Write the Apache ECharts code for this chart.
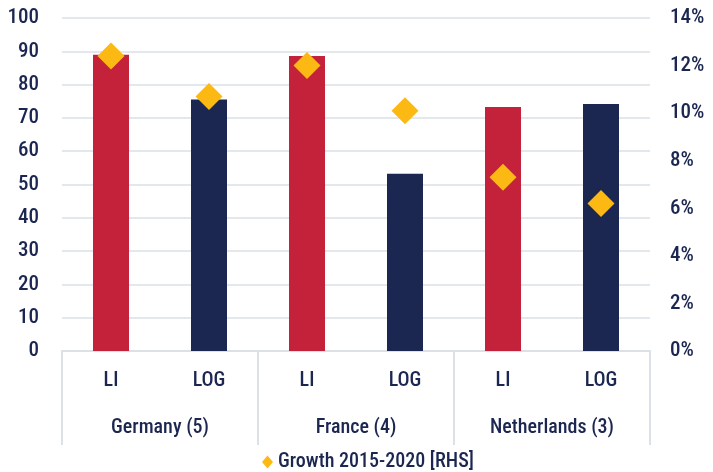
<!DOCTYPE html>
<html>
<head>
<meta charset="utf-8">
<script src="https://cdn.jsdelivr.net/npm/echarts@6/dist/echarts.min.js"></script>
<style>
html,body{margin:0;padding:0;background:#fff;}
#chart{width:713px;height:472px;}
</style>
</head>
<body>
<div id="chart"></div>
<script>
var categories = ['LI', 'LOG', 'LI', 'LOG', 'LI', 'LOG'];
var groups = ['Germany (5)', 'France (4)', 'Netherlands (3)'];
var barValues = [89, 75.5, 88.6, 53.2, 73.3, 74.2];
var growthValues = [12.4, 10.7, 12.0, 10.1, 7.3, 6.2];
var leftTicks = {min: 0, max: 100, interval: 10};
var rightTicks = {min: 0, max: 14, interval: 2};
var seriesName = 'Growth 2015-2020 [RHS]';

var barColors = ['#C3223A', '#1B2651'];
var textColor = '#1B2651';
var fontFam = '"Roboto Condensed", "Roboto", sans-serif';
var fw = 500;

var chart = echarts.init(document.getElementById('chart'));
chart.setOption({
  animation: false,
  textStyle: {fontFamily: fontFam},
  grid: {left: 62, right: 63, top: 18, bottom: 121, containLabel: false},
  legend: {
    top: 447,
    left: 257,
    data: [{name: seriesName, icon: 'diamond'}],
    itemWidth: 11,
    itemHeight: 13,
    itemGap: 6,
    textStyle: {color: textColor, fontSize: 20, fontWeight: fw, fontFamily: fontFam}
  },
  xAxis: [
    {
      type: 'category',
      data: categories,
      position: 'bottom',
      axisLine: {show: true, lineStyle: {color: '#DCE1E7', width: 2}},
      axisTick: {show: false},
      axisLabel: {color: textColor, fontSize: 20, fontWeight: fw, margin: 20, fontFamily: fontFam}
    },
    {
      type: 'category',
      data: groups,
      position: 'bottom',
      axisLine: {show: false},
      axisTick: {show: true, length: 94, lineStyle: {color: '#DCE1E7', width: 2}},
      axisLabel: {color: textColor, fontSize: 20, fontWeight: fw, margin: 67, fontFamily: fontFam}
    }
  ],
  yAxis: [
    {
      type: 'value',
      min: leftTicks.min, max: leftTicks.max, interval: leftTicks.interval,
      axisLine: {show: false},
      axisTick: {show: false},
      splitLine: {show: true, lineStyle: {color: '#E3E8ED', width: 2}},
      axisLabel: {color: textColor, fontSize: 21, fontWeight: fw, margin: 23, fontFamily: fontFam}
    },
    {
      type: 'value',
      min: rightTicks.min, max: rightTicks.max, interval: rightTicks.interval,
      position: 'right',
      axisLine: {show: false},
      axisTick: {show: false},
      splitLine: {show: false},
      axisLabel: {color: textColor, fontSize: 21, fontWeight: fw, margin: 20, formatter: '{value}%', fontFamily: fontFam}
    }
  ],
  series: [
    {
      type: 'bar',
      xAxisIndex: 0,
      yAxisIndex: 0,
      data: barValues,
      barWidth: 36,
      itemStyle: {color: function (p) { return barColors[p.dataIndex % 2]; }}
    },
    {
      type: 'scatter',
      name: seriesName,
      xAxisIndex: 0,
      yAxisIndex: 1,
      data: growthValues,
      symbol: 'diamond',
      symbolSize: [27, 27],
      itemStyle: {color: '#FDB913', opacity: 1},
      z: 5
    }
  ]
});
</script>
</body>
</html>
